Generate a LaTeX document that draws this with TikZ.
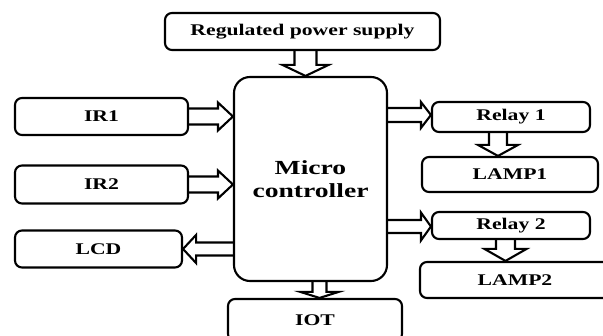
\documentclass[tikz,border=0pt]{standalone}
\usepackage{fontspec}
\setmainfont{Liberation Serif}
\usepackage{graphicx}
\usetikzlibrary{calc}
\newcommand\wtxt[1]{\scalebox{1.33}[1]{#1}}
\newcommand\wbig[1]{\scalebox{1.38}[1]{#1}}
\tikzset{
  blk/.style={draw, line width=2.1pt, rounded corners=7pt, inner sep=0pt,
    font=\fontsize{16.3}{19}\selectfont\bfseries},
  bigblk/.style={blk, rounded corners=16pt, font=\fontsize{20}{22.5}\selectfont\bfseries, align=center},
  harr/.style={draw, line width=2.1pt, line join=miter},
}
% #1 start, #2 tip, #3 half shaft, #4 half head, #5 head length
\newcommand\harrow[5]{%
  \coordinate (hb) at ($(#2)!#5!(#1)$);
  \draw[harr] ($(#1)!#3!90:(#2)$) -- ($(hb)!#3!-90:(#1)$) -- ($(hb)!#4!-90:(#1)$)
    -- (#2) -- ($(hb)!#4!90:(#1)$) -- ($(hb)!#3!90:(#1)$) -- ($(#1)!#3!-90:(#2)$);
}
\begin{document}
\begin{tikzpicture}[x=1pt,y=-1pt]
\useasboundingbox (0,0) rectangle (603,336);
\node[blk, minimum width=275pt, minimum height=37pt] (rps) at (302.5,31.5) {\wtxt{Regulated power supply}};
\node[bigblk, minimum width=153pt, minimum height=204pt] (mc) at (310.5,179) {\wbig{Micro}\\\wbig{controller}};
\node[blk, minimum width=173pt, minimum height=37pt] (ir1) at (101.5,116.5) {\wtxt{IR1}};
\node[blk, minimum width=173pt, minimum height=38pt] (ir2) at (101.5,184.5) {\wtxt{IR2}};
\node[blk, minimum width=167pt, minimum height=37pt] (lcd) at (98.5,249) {\wtxt{LCD}};
\node[blk, minimum width=174pt, minimum height=42pt] (iot) at (315,320) {\wtxt{IOT}};
\node[blk, minimum width=158pt, minimum height=30pt] (r1) at (511,117) {\wtxt{Relay 1}};
\node[blk, minimum width=176pt, minimum height=35pt] (l1) at (510,174.5) {\wtxt{LAMP1}};
\node[blk, minimum width=158pt, minimum height=27pt] (r2) at (511,225.5) {\wtxt{Relay 2}};
\node[blk, minimum width=190pt, minimum height=36pt] (l2) at (515,280) {\wtxt{LAMP2}};
% arrows
\coordinate (a0) at ($(rps.south)+(3,0)$);
\harrow{a0}{a0 |- mc.north}{11pt}{23pt}{11pt}
\harrow{ir1.east}{mc.west |- ir1.east}{8pt}{14pt}{15pt}
\harrow{ir2.east}{mc.west |- ir2.east}{8pt}{14pt}{15pt}
\coordinate (a3) at (mc.west |- lcd.east);
\harrow{a3}{lcd.east}{6.5pt}{14pt}{13pt}
\coordinate (a4) at ($(mc.south)+(9,0)$);
\harrow{a4}{a4 |- iot.north}{7pt}{19pt}{6pt}
\coordinate (a5) at ($(r1.west)+(0,-2)$);
\coordinate (a5s) at (mc.east |- a5);
\harrow{a5s}{a5}{7pt}{13pt}{10pt}
\coordinate (a6) at ($(r2.west)+(0,1)$);
\coordinate (a6s) at (mc.east |- a6);
\harrow{a6s}{a6}{6.5pt}{14pt}{10pt}
\coordinate (a7) at ($(r1.south)+(-13,0)$);
\harrow{a7}{a7 |- l1.north}{9pt}{20pt}{11pt}
\coordinate (a8) at ($(r2.south)+(-5.5,0)$);
\harrow{a8}{a8 |- l2.north}{9.5pt}{21pt}{12pt}
\end{tikzpicture}
\end{document}
